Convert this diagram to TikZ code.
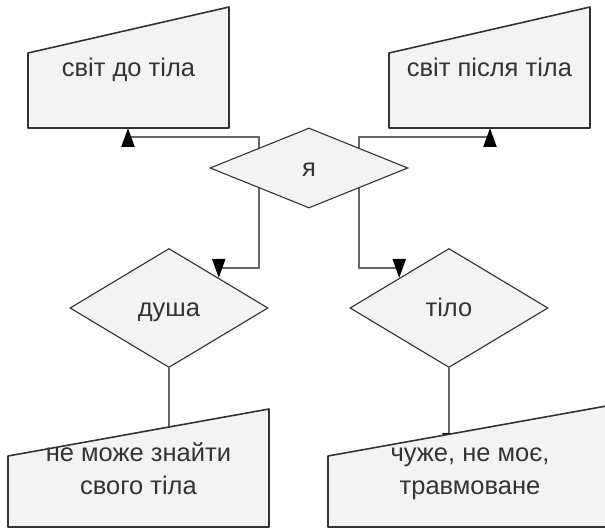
\documentclass[tikz,border=0pt]{standalone}
\usepackage{fontspec}
\setmainfont{Liberation Sans}
\usetikzlibrary{shapes.geometric,arrows.meta}
\definecolor{fillc}{HTML}{F3F3F3}
\definecolor{linec}{HTML}{333333}
\definecolor{connc}{HTML}{666666}
\definecolor{txtc}{HTML}{333333}
\pgfdeclarelayer{back}
\pgfdeclarelayer{bg}
\pgfsetlayers{back,bg,main}
\begin{document}
\begin{tikzpicture}[x=1pt,y=-1pt,
  every node/.style={text=txtc, font=\fontsize{25.5}{30}\selectfont},
  dia/.style={diamond, draw=linec, line width=1.1pt, fill=fillc, inner sep=0pt,
    minimum width=198pt, minimum height=80pt, text height=17pt, text depth=0pt},
  boxshape/.style={draw=linec, line width=1.6pt, fill=fillc, line join=round},
  lbl/.style={anchor=base, inner sep=0pt},
  conn/.style={draw=connc, line width=2pt, -{Triangle[length=19pt,width=13pt,color=black]}}]
\useasboundingbox (0,0) rectangle (605,529);
\begin{pgfonlayer}{back}
\fill[white] (0,0) rectangle (605,529);
\end{pgfonlayer}
% diamonds
\node[dia] (ya) at (309,168) {я};
\node[dia, minimum height=119pt] (dusha) at (169,308) {душа};
\node[dia, minimum height=119pt] (tilo) at (449,308) {тіло};
% manual input boxes
\draw[boxshape] (28,53) -- (229,7) -- (229,128) -- (28,128) -- cycle;
\draw[boxshape] (389,53) -- (590,7) -- (590,128) -- (389,128) -- cycle;
\draw[boxshape] (8,456) -- (269,409) -- (269,527) -- (8,527) -- cycle;
\begin{scope}
\clip (0,0) rectangle (605,529);
\draw[boxshape] (328,456) -- (612,405) -- (612,527) -- (328,527) -- cycle;
\end{scope}
% box texts
\node[lbl] (b1) at (128.5,77) {світ до тіла};
\node[lbl] (b2) at (489.5,77) {світ після тіла};
\node[lbl] (b3) at (138.5,461) {не може знайти};
\node[lbl] (b3b) at (138.5,494) {свого тіла};
\node[lbl] (b4) at (470,461) {чуже, не моє,};
\node[lbl] (b4b) at (470,494) {травмоване};
% connector end points on the boxes
\coordinate (b1in) at (128,128);
\coordinate (b2in) at (490,128);
\coordinate (b3in) at (169,446);
\coordinate (b4in) at (449,452);
\begin{pgfonlayer}{bg}
\draw[conn] (ya.north west) -- ++(0,-11) -| (b1in);
\draw[conn] (ya.north east) -- ++(0,-11) -| (b2in);
\draw[conn] (ya.south west) -- ++(0,80) -| (dusha.north east);
\draw[conn] (ya.south east) -- ++(0,80) -| (tilo.north west);
\draw[conn] (dusha.south) -- (dusha.south |- b3in);
\draw[conn] (tilo.south) -- (tilo.south |- b4in);
\end{pgfonlayer}
\end{tikzpicture}
\end{document}
